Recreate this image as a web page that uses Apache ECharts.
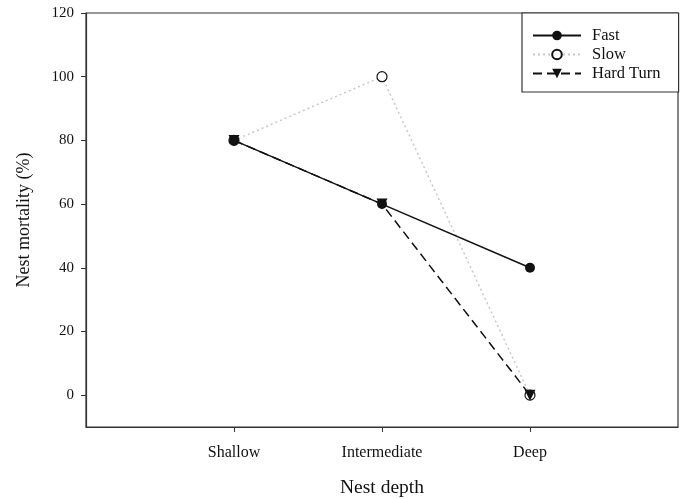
<!DOCTYPE html>
<html><head><meta charset="utf-8">
<script src="https://cdn.jsdelivr.net/npm/echarts@6/dist/echarts.min.js"></script>
<style>html,body{margin:0;padding:0;background:#fff}#c{width:683px;height:499px}</style>
</head><body><div id="c"></div>
<script>
const categories = ['Shallow', 'Intermediate', 'Deep'];
const fast = [80, 60, 40];
const slow = [80, 100, 0];
const hardTurn = [80, 60, 0];
const yTicks = [0, 20, 40, 60, 80, 100, 120];

const pos = categories.map((c, i) => i + 1);
const pts = arr => arr.map((v, i) => [pos[i], v]);
const F = 'Liberation Serif, Times New Roman, serif';

const chart = echarts.init(document.getElementById('c'));
chart.setOption({
  animation: false,
  grid: { left: 86, right: 5, top: 13, bottom: 72, show: true, borderColor: '#333', borderWidth: 1.2,
    containLabel: false, outerBoundsMode: 'none' },
  xAxis: {
    type: 'value', min: 0, max: 4, interval: 1,
    splitLine: { show: false },
    axisLine: { onZero: false, lineStyle: { color: '#333', width: 1.2 } },
    axisTick: { show: true, length: 5, lineStyle: { color: '#333' }, customValues: pos },
    axisLabel: { color: '#111', fontFamily: F, fontSize: 16, margin: 18, customValues: pos,
      formatter: v => categories[v - 1] || '' },
    name: 'Nest depth', nameLocation: 'middle', nameGap: 51,
    nameTextStyle: { color: '#111', fontFamily: F, fontSize: 19.5 }
  },
  yAxis: {
    type: 'value', min: -10, max: 120,
    splitLine: { show: false },
    axisLine: { show: true, onZero: false, lineStyle: { color: '#333', width: 1.2 } },
    axisTick: { show: true, length: 5, lineStyle: { color: '#333' }, customValues: yTicks },
    axisLabel: { color: '#111', fontFamily: F, fontSize: 15, margin: 12, customValues: yTicks },
    name: 'Nest mortality (%)', nameLocation: 'middle', nameGap: 53,
    nameTextStyle: { color: '#111', fontFamily: F, fontSize: 18 }
  },
  legend: {
    orient: 'vertical', left: 522, top: 13,
    padding: [14, 18, 10, 10], itemGap: 2, itemWidth: 48, itemHeight: 12,
    borderColor: '#333', borderWidth: 1.2, backgroundColor: '#fff',
    textStyle: { color: '#111', fontFamily: F, fontSize: 16.5, padding: [0, 0, 0, 6] },
    data: ['Fast', 'Slow', 'Hard Turn']
  },
  series: [
    { name: 'Slow', type: 'line', data: pts(slow), symbol: 'circle', symbolSize: 10,
      lineStyle: { color: '#c8c8c8', width: 1.5, type: [2, 3] },
      itemStyle: { color: '#fff', borderColor: '#111', borderWidth: 1.2 }, z: 2 },
    { name: 'Hard Turn', type: 'line', data: pts(hardTurn), symbol: 'triangle', symbolRotate: 180, symbolSize: 11,
      lineStyle: { color: '#111', width: 1.5, type: [9, 5] },
      itemStyle: { color: '#111' }, z: 3 },
    { name: 'Fast', type: 'line', data: pts(fast), symbol: 'circle', symbolSize: 10,
      lineStyle: { color: '#111', width: 1.5 },
      itemStyle: { color: '#111' }, z: 4 }
  ]
});
</script></body></html>
